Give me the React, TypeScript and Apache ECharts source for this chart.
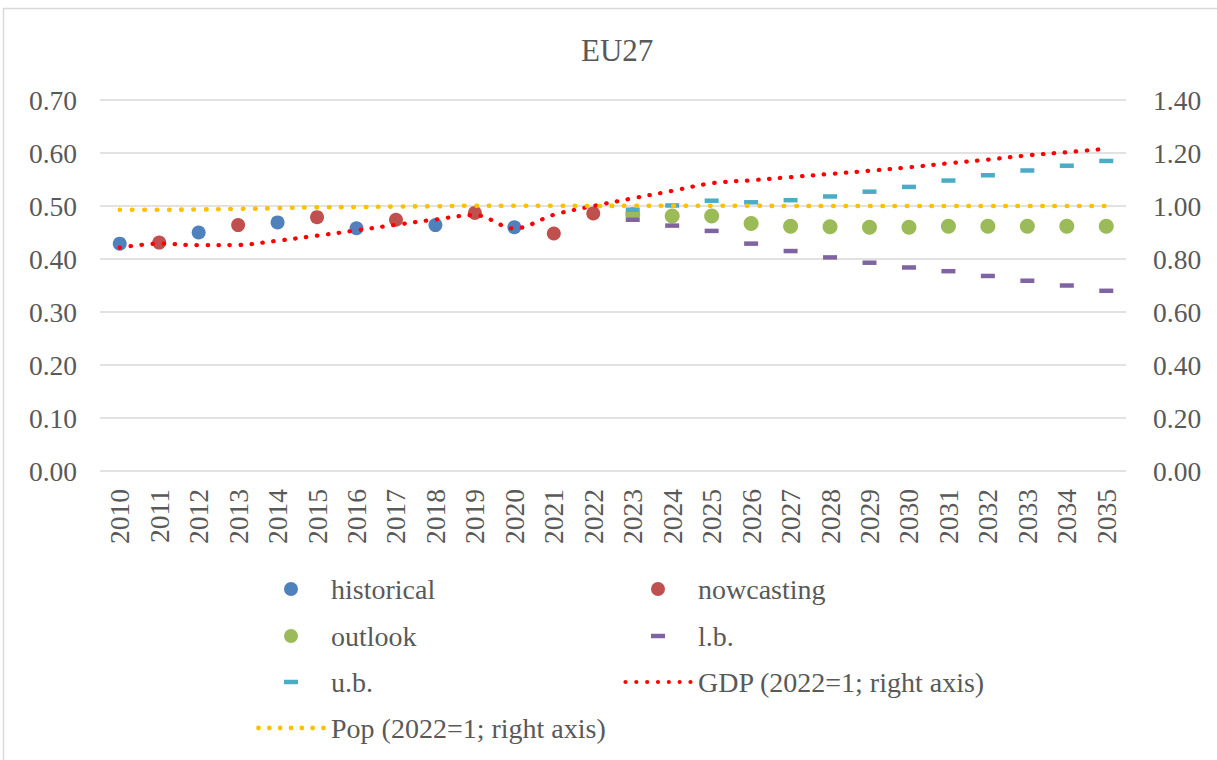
import React, { useEffect, useRef } from 'react';
import * as echarts from 'echarts';

const years = ['2010','2011','2012','2013','2014','2015','2016','2017','2018','2019','2020','2021','2022','2023','2024','2025','2026','2027','2028','2029','2030','2031','2032','2033','2034','2035'];

const historical = [0.429, null, 0.450, null, 0.469, null, 0.458, null, 0.464, null, 0.460, null, null, null, null, null, null, null, null, null, null, null, null, null, null, null];
const nowcasting = [null, 0.431, null, 0.464, null, 0.479, null, 0.474, null, 0.487, null, 0.448, 0.486, null, null, null, null, null, null, null, null, null, null, null, null, null];
const outlook = [null, null, null, null, null, null, null, null, null, null, null, null, null, 0.484, 0.481, 0.481, 0.467, 0.462, 0.461, 0.460, 0.460, 0.462, 0.462, 0.462, 0.462, 0.462];
const lowerBound = [null, null, null, null, null, null, null, null, null, null, null, null, null, 0.474, 0.463, 0.453, 0.429, 0.415, 0.403, 0.393, 0.384, 0.377, 0.368, 0.359, 0.350, 0.340];
const upperBound = [null, null, null, null, null, null, null, null, null, null, null, null, null, 0.493, 0.501, 0.510, 0.507, 0.511, 0.518, 0.527, 0.536, 0.548, 0.558, 0.567, 0.576, 0.585];
const gdp = [0.843, 0.858, 0.852, 0.853, 0.869, 0.888, 0.908, 0.929, 0.949, 0.966, 0.915, 0.967, 1.000, 1.029, 1.057, 1.086, 1.097, 1.109, 1.121, 1.133, 1.146, 1.161, 1.175, 1.191, 1.203, 1.216];
const pop = [0.986, 0.986, 0.987, 0.989, 0.992, 0.995, 0.996, 0.998, 0.999, 1.001, 1.001, 1.001, 1.000, 1.001, 1.001, 1.001, 1.001, 1.000, 1.000, 1.000, 1.000, 1.000, 1.000, 1.000, 1.000, 1.000];

const leftTicks = { min: 0, max: 0.7, interval: 0.1 };
const rightTicks = { min: 0, max: 1.4, interval: 0.2 };

function circ(cx: number, cy: number, r: number) {
  return `M${cx - r},${cy}a${r},${r} 0 1,0 ${2 * r},0a${r},${r} 0 1,0 ${-2 * r},0z `;
}

export default function App() {
  const ref = useRef<HTMLDivElement>(null);
  useEffect(() => {
    const chart = echarts.init(ref.current!, null, { renderer: 'svg' });
    const font = 'Liberation Serif';
    const txt = '#595959';
    const corners = 'M0,0h0.01v0.01h-0.01z M69.99,13.99h0.01v0.01h-0.01z ';
    const dashIcon = 'path://' + corners + 'M28,4.75h14v4.5h-14z';
    const circleIcon = 'path://' + corners + circ(35, 7, 7);
    const dotsIcon = (r: number) => {
      let d = 'path://' + corners;
      for (let i = 0; i < 7; i++) d += circ(2.5 + i * 10.83, 7, r);
      return d;
    };
    const lg = (name: string, icon: string, left: number, top: number) => ({
      data: [{ name, icon }],
      left, top,
      itemWidth: 70, itemHeight: 14, itemGap: 0, padding: 0,
      selectedMode: false,
      textStyle: { fontFamily: font, fontSize: 28, color: txt },
    });
    const col1 = 256, col2 = 623;
    const rows = [575, 622, 668, 714];
    chart.setOption({
      animation: false,
      backgroundColor: '#ffffff',
      textStyle: { fontFamily: font },
      title: {
        text: 'EU27', left: 576, top: 30,
        textStyle: { fontFamily: font, fontSize: 31, fontWeight: 'normal', color: txt },
      },
      graphic: [{
        type: 'rect', shape: { x: 3.5, y: 8.5, width: 1230, height: 760 },
        style: { fill: 'none', stroke: '#d9d9d9', lineWidth: 1.5 }, silent: true,
      }],
      grid: { left: 100, right: 91, top: 100, bottom: 289, containLabel: false },
      legend: [
        lg('historical', circleIcon, col1, rows[0]),
        lg('nowcasting', circleIcon, col2, rows[0]),
        lg('outlook', circleIcon, col1, rows[1]),
        lg('l.b.', dashIcon, col2, rows[1]),
        lg('u.b.', dashIcon, col1, rows[2]),
        lg('GDP (2022=1; right axis)', dotsIcon(2.1), col2, rows[2]),
        lg('Pop (2022=1; right axis)', dotsIcon(2.4), col1, rows[3]),
      ],
      xAxis: {
        type: 'category', data: years, boundaryGap: true,
        axisLine: { show: false }, axisTick: { show: false },
        axisLabel: { rotate: 90, fontFamily: font, fontSize: 27.5, color: txt, margin: 18, interval: 0 },
      },
      yAxis: [
        {
          type: 'value', ...leftTicks, position: 'left',
          axisLine: { show: false }, axisTick: { show: false },
          splitLine: { show: true, lineStyle: { color: '#d9d9d9', width: 1.5 } },
          axisLabel: { fontFamily: font, fontSize: 27.5, color: txt, margin: 23, formatter: (v: number) => v.toFixed(2) },
        },
        {
          type: 'value', ...rightTicks, position: 'right',
          axisLine: { show: false }, axisTick: { show: false },
          splitLine: { show: false },
          axisLabel: { fontFamily: font, fontSize: 27.5, color: txt, margin: 27, formatter: (v: number) => v.toFixed(2) },
        },
      ],
      series: [
        { name: 'historical', type: 'scatter', data: historical, symbol: 'circle', symbolSize: 14, itemStyle: { color: '#4F81BD', opacity: 1 } },
        { name: 'nowcasting', type: 'scatter', data: nowcasting, symbol: 'circle', symbolSize: 14, itemStyle: { color: '#C0504D', opacity: 1 } },
        { name: 'outlook', type: 'scatter', data: outlook, symbol: 'circle', symbolSize: 15, itemStyle: { color: '#9BBB59', opacity: 1 } },
        { name: 'l.b.', type: 'scatter', data: lowerBound, symbol: 'rect', symbolSize: [14, 4.5], itemStyle: { color: '#8064A2', opacity: 1 } },
        { name: 'u.b.', type: 'scatter', data: upperBound, symbol: 'rect', symbolSize: [14, 4.5], itemStyle: { color: '#4BACC6', opacity: 1 } },
        {
          name: 'GDP (2022=1; right axis)', type: 'line', yAxisIndex: 1, data: gdp, symbol: 'none', smooth: 0.35,
          itemStyle: { color: '#FF0000' },
          lineStyle: { color: '#FF0000', width: 4.2, type: [0.5, 10.5], cap: 'round' },
        },
        {
          name: 'Pop (2022=1; right axis)', type: 'line', yAxisIndex: 1, data: pop, symbol: 'none', smooth: 0.35,
          itemStyle: { color: '#FFC000' },
          lineStyle: { color: '#FFC000', width: 4.6, type: [0.5, 11.8], cap: 'round' },
        },
      ],
    });
    return () => chart.dispose();
  }, []);
  return <div ref={ref} style={{ position: 'absolute', left: 0, top: 0, width: 1217, height: 760 }} />;
}
